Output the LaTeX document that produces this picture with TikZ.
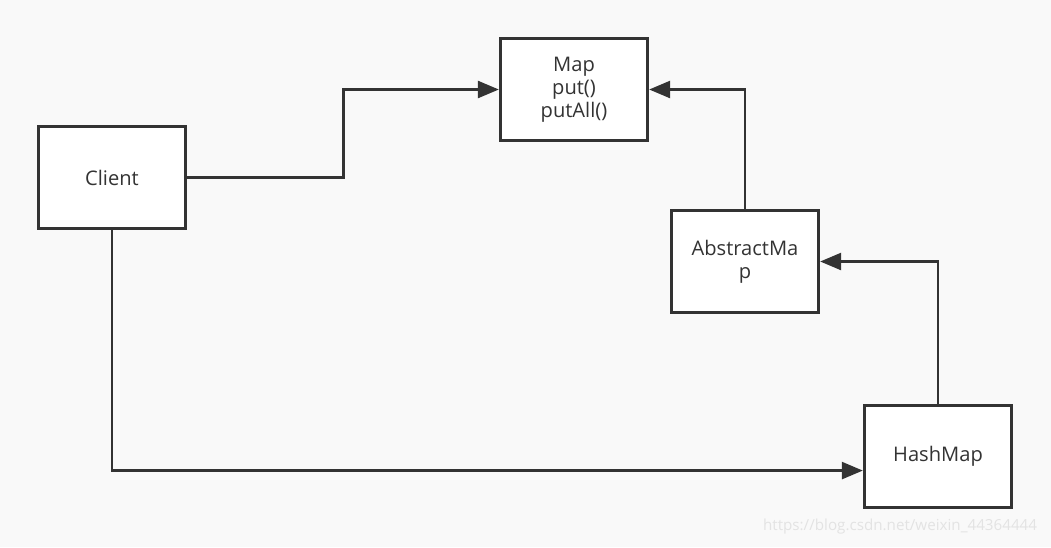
\documentclass[tikz,border=0pt]{standalone}
\usepackage{fontspec}
\setmainfont{Open Sans}
\usetikzlibrary{positioning, arrows.meta, calc}

\definecolor{inkgray}{HTML}{333333}
\definecolor{paper}{HTML}{F9F9F9}

\begin{document}
\begin{tikzpicture}[
  x=0.025cm, y=-0.025cm,
  >={Triangle[length=15pt, width=12pt]},
  every node/.style={font=\fontsize{14.3pt}{16.4pt}\selectfont, text=inkgray},
  classbox/.style={draw=inkgray, line width=2.1pt, fill=white,
    minimum width=3.68cm, minimum height=2.55cm, align=center, inner sep=0pt},
  link/.style={->, draw=inkgray, line width=2.1pt}
]
% ---- canvas ----
\fill[paper] (0, 0) rectangle (1051, 547);
\useasboundingbox (0, 0) rectangle (1051, 547);

% ---- classes ----
\node[classbox] (map) at (574, 89.5) {Map\\put()\\putAll()};
\node[classbox] (client) at (112, 177.5) {Client};
\node[classbox] (absmap) at (745, 261.5) {AbstractMa\\p};
\node[classbox] (hashmap) at (938, 456.5) {HashMap};

% ---- connectors ----
\draw[link] (client.east) -- ++(156, 0) |- (map.west);
\draw[link] (absmap.north) |- (map.east);
\draw[link] (hashmap.north) |- (absmap.east);
\draw[link] (client.south) |- ([yshift=-10pt]hashmap.west);

% ---- watermark ----
\node[font=\fontsize{10.8pt}{12pt}\selectfont, text=black!11, anchor=east]
  (mark) at (1042, 527) {https://blog.csdn.net/weixin\_44364444};

\end{tikzpicture}
\end{document}
